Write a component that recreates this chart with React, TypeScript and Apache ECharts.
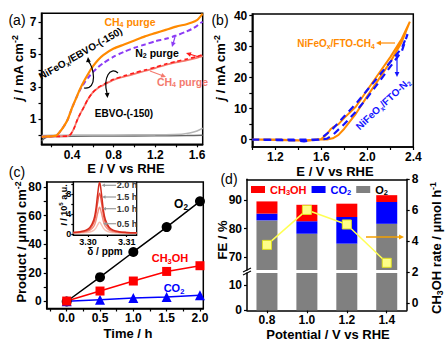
import React, { useEffect, useRef } from 'react';
import * as echarts from 'echarts';

const FONT = '"Liberation Sans", Arial, Helvetica, sans-serif';

// ---------- Panel (a): LSV curves ----------
const aE_NiFe = [0.11, 0.15, 0.2, 0.25, 0.28, 0.32, 0.36, 0.4, 0.44, 0.48, 0.52, 0.56, 0.6, 0.65, 0.7, 0.8, 0.9, 1.0, 1.1, 1.2, 1.3, 1.4, 1.5, 1.55, 1.6, 1.63, 1.655];
const aJ_NiFe_CH4 = [-0.08, -0.06, -0.05, 0.0, 0.2, 0.55, 1.0, 1.7, 2.3, 2.9, 3.4, 3.85, 4.25, 4.65, 4.95, 5.35, 5.6, 5.85, 6.1, 6.3, 6.5, 6.7, 6.85, 6.95, 7.1, 7.3, 7.5];
const aJ_NiFe_N2 = [-0.08, -0.06, -0.05, 0.0, 0.2, 0.55, 1.0, 1.7, 2.3, 2.85, 3.25, 3.6, 3.9, 4.2, 4.45, 4.85, 5.15, 5.4, 5.6, 5.8, 5.95, 6.15, 6.4, 6.55, 6.75, 6.9, 7.0];
const aE_EBVO = [0.11, 0.2, 0.3, 0.36, 0.39, 0.42, 0.45, 0.48, 0.51, 0.55, 0.6, 0.65, 0.7, 0.8, 0.9, 1.0, 1.1, 1.2, 1.3, 1.4, 1.5, 1.6, 1.655];
const aJ_EBVO_CH4 = [-0.08, -0.06, -0.05, -0.03, 0.1, 0.45, 0.95, 1.35, 1.7, 2.2, 2.65, 2.93, 3.1, 3.42, 3.62, 3.8, 3.97, 4.15, 4.35, 4.5, 4.63, 4.78, 4.88];
const aJ_EBVO_N2 = [-0.08, -0.06, -0.05, -0.03, 0.1, 0.45, 0.95, 1.35, 1.7, 2.2, 2.65, 2.95, 3.14, 3.46, 3.67, 3.86, 4.03, 4.2, 4.4, 4.56, 4.7, 4.86, 4.97];
const aE_dark = [0.11, 0.13, 0.16, 0.2, 0.4, 0.8, 1.2, 1.5, 1.655];
const aJ_dark = [-0.35, -0.2, -0.1, -0.06, -0.04, -0.03, -0.02, 0.0, 0.02];
const aE_light = [0.11, 0.3, 0.6, 1.0, 1.3, 1.45, 1.5, 1.55, 1.6, 1.655];
const aJ_light = [0.0, 0.02, 0.03, 0.04, 0.05, 0.08, 0.12, 0.18, 0.28, 0.45];
const aXLabels = [0.4, 0.8, 1.2, 1.6];
const aXTicks = [0.2, 0.4, 0.6, 0.8, 1.0, 1.2, 1.4, 1.6];
const aYLabels = [1, 3, 5, 7];
const aYTicks = [0, 1, 2, 3, 4, 5, 6, 7];

// ---------- Panel (b): CV loops ----------
const bE_CH4 = [1.0, 1.2, 1.4, 1.45, 1.5, 1.55, 1.6, 1.65, 1.68, 1.7, 1.75, 1.8, 1.9, 2.0, 2.1, 2.2, 2.3, 2.37, 2.3, 2.2, 2.1, 2.0, 1.9, 1.8, 1.75, 1.7, 1.65, 1.6, 1.4, 1.0];
const bJ_CH4 = [0, 0, -0.2, -0.5, -0.3, 0, 0.2, 1.8, 3.3, 3.9, 5.0, 7.0, 10.6, 16, 21.3, 26.6, 32.5, 38, 31.5, 25, 19.5, 14, 8.3, 3.5, 1.5, 0.4, 0, 0, -0.3, 0];
const bE_N2 = [1.0, 1.4, 1.45, 1.5, 1.58, 1.62, 1.7, 1.8, 1.9, 2.0, 2.1, 2.2, 2.3, 2.35, 2.3, 2.2, 2.1, 2.0, 1.9, 1.8, 1.7, 1.65, 1.6, 1.0];
const bJ_N2 = [0, -0.3, -0.6, -0.3, 0, 1.0, 3.5, 7.5, 11.5, 16, 20.5, 25, 29.5, 34, 28.5, 23.5, 18.5, 13.5, 9, 5, 1.5, 0.3, 0, 0];
const bXLabels = [1.2, 1.6, 2.0, 2.4];
const bXTicks = [1.0, 1.2, 1.4, 1.6, 1.8, 2.0, 2.2, 2.4];
const bYLabels = [0, 10, 20, 30, 40];
const bYTicks = [0, 5, 10, 15, 20, 25, 30, 35, 40];

// ---------- Panel (c): products vs time ----------
const cTime = [0, 0.5, 1.0, 1.5, 2.0];
const cO2 = [0, 17, 34.6, 52, 70];
const cCH3OH = [0.3, 7.3, 14.3, 21, 25];
const cCO2 = [0.2, 1.3, 2.4, 3.2, 4.4];
const cXLabels = [0, 0.5, 1.0, 1.5, 2.0];
const cXTicks = [-0.25, 0, 0.25, 0.5, 0.75, 1.0, 1.25, 1.5, 1.75, 2.0];
const cYLabels = [0, 20, 40, 60, 80];
const cYTicks = [0, 10, 20, 30, 40, 50, 60, 70, 80];

// inset NMR peaks
const insShift = [3.2962, 3.298, 3.2995, 3.3005, 3.3015, 3.302, 3.3025, 3.303, 3.3035, 3.304, 3.3045, 3.3055, 3.3065, 3.308, 3.3098, 3.3126];
const insP20 = [0.27, 0.42, 0.73, 1.27, 2.8, 4.67, 7.89, 10.3, 7.89, 4.67, 2.8, 1.27, 0.73, 0.42, 0.27, 0.19];
const insP15 = [0.24, 0.35, 0.6, 1.02, 2.22, 3.68, 6.21, 8.1, 6.21, 3.68, 2.22, 1.02, 0.6, 0.35, 0.24, 0.17];
const insP10 = [0.19, 0.26, 0.42, 0.7, 1.48, 2.43, 4.07, 5.3, 4.07, 2.43, 1.48, 0.7, 0.42, 0.26, 0.19, 0.15];
const insP05 = [0.14, 0.17, 0.24, 0.35, 0.68, 1.09, 1.78, 2.3, 1.78, 1.09, 0.68, 0.35, 0.24, 0.17, 0.14, 0.12];
const insXLabels = [3.30, 3.31];
const insXTicks = [3.30, 3.305, 3.31];
const insYLabels = [0, 4, 8];
const insYTicks = [0, 2, 4, 6, 8, 10];
const insTimes = ['2.0 h', '1.5 h', '1.0 h', '0.5 h'];

// ---------- Panel (d): Faradaic efficiency ----------
const dPot = ['0.8', '1.0', '1.2', '1.4'];
const dO2 = [82.9, 78.2, 74.7, 81.7];
const dCO2 = [2.4, 4.4, 9.4, 7.7];
const dCH3OH = [4.3, 5.8, 4.7, 2.4];
const dRate = [3.76, 6.02, 5.08, 2.6];
const dYUpLabels = [70, 80, 90];
const dYLowLabels = [0, 10];
const dRLabels = [0, 2, 4, 6, 8];

const ORANGE = '#ff8a00';
const PURPLE = '#8c3cf5';
const SALMON = '#f47a6e';
const RED = '#ff1a1a';
const BLUE = '#1414ff';

const zip = (xs: number[], ys: number[]) => xs.map((x, i) => [x, ys[i]]);
const f1 = (v: number) => v.toFixed(1);
const f2 = (v: number) => v.toFixed(2);

function vAxis(o: any) {
  return {
    type: 'value', gridIndex: o.g, min: o.min, max: o.max, position: o.pos,
    axisLine: { show: true, onZero: false, lineStyle: { color: '#000', width: o.lw ?? 1.5 } },
    axisTick: { show: !!o.ticks, length: o.tl ?? 3, inside: false, customValues: o.ticks, lineStyle: { color: '#000', width: 1.2 } },
    axisLabel: {
      show: !!o.labels, customValues: o.labels, formatter: o.fmt, color: '#000',
      fontSize: o.fs ?? 12, fontWeight: 'bold', fontFamily: FONT, margin: o.margin ?? 4,
      lineHeight: o.lh ?? (o.fs ?? 12) + 1,
    },
    splitLine: { show: false },
  };
}

function cAxis(o: any) {
  return {
    type: 'category', gridIndex: o.g, data: dPot, position: o.pos, show: o.show !== false,
    boundaryGap: true,
    axisLine: { show: true, onZero: false, lineStyle: { color: '#000', width: 1.5 } },
    axisTick: { show: !!o.labels, alignWithLabel: true, length: 3, lineStyle: { color: '#000', width: 1.2 } },
    axisLabel: { show: !!o.labels, color: '#000', fontSize: 12, fontWeight: 'bold', fontFamily: FONT, margin: 3, lineHeight: 13 },
    splitLine: { show: false },
  };
}

function T(x: number, y: number, text: string, o: any = {}) {
  const size = o.size ?? 12;
  const color = o.color ?? '#000';
  const weight = o.weight ?? 'bold';
  const small = Math.round(size * 0.68 * 10) / 10;
  const tok = (extra: any) => ({ fontSize: small, fontWeight: weight, fontFamily: FONT, fill: color, ...extra });
  return {
    type: 'text', x, y, rotation: o.rot ?? 0, z: 100, silent: true,
    style: {
      text, fill: color, fontSize: size, fontWeight: weight, fontFamily: FONT,
      align: 'center', verticalAlign: 'middle', textAlign: 'center', textVerticalAlign: 'middle',
      lineHeight: size + 3,
      rich: {
        sub: tok({ verticalAlign: 'bottom' }),
        sup: tok({ verticalAlign: 'top' }),
        it: { fontSize: size, fontWeight: weight, fontStyle: 'italic', fontFamily: FONT, fill: color, lineHeight: size + 3 },
      },
    },
  };
}

function head(x: number, y: number, ang: number, color: string, hl = 5, hw = 2.4) {
  const c = Math.cos(ang), s = Math.sin(ang);
  return {
    type: 'polygon', z: 100, silent: true,
    shape: { points: [[x, y], [x - hl * c + hw * s, y - hl * s - hw * c], [x - hl * c - hw * s, y - hl * s + hw * c]] },
    style: { fill: color },
  };
}
function arrow(x1: number, y1: number, x2: number, y2: number, color: string, w = 1.2, hl = 5, hw = 2.4) {
  const ang = Math.atan2(y2 - y1, x2 - x1);
  return [
    { type: 'line', z: 100, silent: true, shape: { x1, y1, x2: x2 - hl * 0.7 * Math.cos(ang), y2: y2 - hl * 0.7 * Math.sin(ang) }, style: { stroke: color, lineWidth: w } },
    head(x2, y2, ang, color, hl, hw),
  ];
}
function curve(x1: number, y1: number, cx1: number, cy1: number, cx2: number, cy2: number, x2: number, y2: number, color: string, w = 1.2) {
  return { type: 'bezierCurve', z: 100, silent: true, shape: { x1, y1, cpx1: cx1, cpy1: cy1, cpx2: cx2, cpy2: cy2, x2, y2 }, style: { stroke: color, lineWidth: w, fill: 'none' } };
}

function line(name: string, data: any[], xi: number, color: string, width: number, extra: any = {}) {
  return {
    type: 'line', name, data, xAxisIndex: xi, yAxisIndex: xi, showSymbol: false, symbol: 'none',
    lineStyle: { color, width, type: extra.dash ?? 'solid' }, itemStyle: { color },
    smooth: extra.smooth ?? 0.25, clip: true, silent: true, z: extra.z ?? 2,
  };
}

function buildOption() {
  const grid = (left: number, top: number, width: number, height: number, border = true, extra: any = {}) => ({
    left, top, width, height, show: border, borderColor: '#000', borderWidth: 1.5,
    backgroundColor: 'transparent', containLabel: false, outerBoundsMode: 'none', ...extra,
  });
  const grids = [
    grid(41.5, 13.3, 161.2, 131),
    grid(252.3, 14, 161, 133),
    grid(46.7, 182, 156.6, 126.5),
    grid(73.3, 182, 63.4, 53, true, { backgroundColor: '#fff', borderWidth: 1.2 }),
    grid(247, 179.3, 159.7, 90.7, false),
    grid(247, 273, 159.7, 37.3, false),
    grid(247, 179.3, 159.7, 131, false),
  ];

  const xAxis = [
    vAxis({ g: 0, min: 0.107, max: 1.655, labels: aXLabels, ticks: aXTicks, pos: 'bottom', fmt: f1, margin: 4 }),
    vAxis({ g: 1, min: 1.0, max: 2.4, labels: bXLabels, ticks: bXTicks, pos: 'bottom', fmt: f1, margin: 3 }),
    vAxis({ g: 2, min: -0.3, max: 2.05, labels: cXLabels, ticks: cXTicks, pos: 'bottom', fmt: f1, margin: 3 }),
    vAxis({ g: 3, min: 3.2962, max: 3.3126, labels: insXLabels, ticks: insXTicks, pos: 'bottom', fmt: f2, fs: 9, margin: 2, tl: 2, lw: 1.2 }),
    cAxis({ g: 4, pos: 'top' }),
    cAxis({ g: 5, pos: 'bottom', labels: true }),
    { type: 'category', gridIndex: 6, data: dPot, show: false, boundaryGap: true },
  ];
  const yAxis = [
    vAxis({ g: 0, min: -0.54, max: 7.52, labels: aYLabels, ticks: aYTicks, pos: 'left', margin: 5 }),
    vAxis({ g: 1, min: -2.4, max: 40.5, labels: bYLabels, ticks: bYTicks, pos: 'left', margin: 5 }),
    vAxis({ g: 2, min: -4.9, max: 83.5, labels: cYLabels, ticks: cYTicks, pos: 'left', margin: 5 }),
    vAxis({ g: 3, min: -0.25, max: 10.35, labels: insYLabels, ticks: insYTicks, pos: 'left', fs: 9, margin: 2, tl: 2, lw: 1.2 }),
    vAxis({ g: 4, min: 65.4, max: 97.4, labels: dYUpLabels, ticks: dYUpLabels, pos: 'left', margin: 5 }),
    vAxis({ g: 5, min: 0, max: 14.9, labels: dYLowLabels, ticks: dYLowLabels, pos: 'left', margin: 5 }),
    vAxis({ g: 6, min: -0.47, max: 8, labels: dRLabels, ticks: dRLabels, pos: 'right', margin: 5 }),
  ];

  const series: any[] = [
    // (a)
    line('bareDark', zip(aE_dark, aJ_dark), 0, '#666', 1.5),
    line('bareLight', zip(aE_light, aJ_light), 0, '#b5b5b5', 1.5),
    line('EBVO CH4', zip(aE_EBVO, aJ_EBVO_CH4), 0, SALMON, 1.8),
    line('EBVO N2', zip(aE_EBVO, aJ_EBVO_N2), 0, RED, 1.6, { dash: [4, 3] }),
    line('NiFe N2', zip(aE_NiFe, aJ_NiFe_N2), 0, PURPLE, 2, { dash: [5, 3] }),
    line('NiFe CH4', zip(aE_NiFe, aJ_NiFe_CH4), 0, ORANGE, 2.2),
    // (b)
    line('FTO CH4', zip(bE_CH4, bJ_CH4), 1, ORANGE, 2, { smooth: false }),
    line('FTO N2', zip(bE_N2, bJ_N2), 1, BLUE, 2.2, { smooth: false, dash: [7, 5], z: 3 }),
    // inset
    line('0.5 h', zip(insShift, insP05), 3, '#f8c0b4', 1.4, { smooth: 0.4 }),
    line('1.0 h', zip(insShift, insP10), 3, '#f29080', 1.4, { smooth: 0.4 }),
    line('1.5 h', zip(insShift, insP15), 3, '#e8594a', 1.4, { smooth: 0.4 }),
    line('2.0 h', zip(insShift, insP20), 3, '#d62b1c', 1.5, { smooth: 0.4 }),
  ];
  // (c)
  const cSer = (name: string, ys: number[], color: string, symbol: string, size: number) => ({
    type: 'line', name, data: zip(cTime, ys), xAxisIndex: 2, yAxisIndex: 2, symbol, symbolSize: size,
    showSymbol: true, lineStyle: { color, width: 1.5 }, itemStyle: { color }, silent: true, clip: false,
  });
  series.push(cSer('O2 (c)', cO2, '#000', 'circle', 10));
  series.push(cSer('CO2 (c)', cCO2, '#0000ff', 'triangle', 10));
  series.push(cSer('CH3OH (c)', cCH3OH, '#ff0000', 'rect', 9));
  // (d) bars
  const bar = (name: string, ys: number[], gi: number, color: string, stack: string) => ({
    type: 'bar', name, data: ys, xAxisIndex: gi, yAxisIndex: gi, stack, barWidth: 21,
    itemStyle: { color }, silent: true, clip: true,
  });
  series.push(bar('O2', dO2, 4, '#808080', 'up'));
  series.push(bar('CO2', dCO2, 4, '#0000ff', 'up'));
  series.push(bar('CH3OH', dCH3OH, 4, '#ff0000', 'up'));
  series.push(bar('O2', dO2, 5, '#808080', 'low'));
  series.push({
    type: 'line', name: 'rate', data: dRate, xAxisIndex: 6, yAxisIndex: 6, symbol: 'rect', symbolSize: 9,
    showSymbol: true, z: 10, silent: true,
    lineStyle: { color: '#ffff55', width: 1.5 },
    itemStyle: { color: '#ffff88', borderColor: '#e0e020', borderWidth: 1 },
  });

  const PI2 = Math.PI / 2;
  const graphic: any[] = [
    // panel tags
    T(17, 20, '(a)', { size: 14, weight: 'normal' }),
    T(220, 20, '(b)', { size: 14, weight: 'normal' }),
    T(17, 172, '(c)', { size: 14, weight: 'normal' }),
    T(229, 179, '(d)', { size: 14, weight: 'normal' }),
    // axis titles
    T(18, 68, '{it|j} / mA cm{sup|-2}', { size: 13, rot: PI2 }),
    T(126, 168, 'E / V vs RHE', { size: 13 }),
    T(220, 68, '{it|j} / mA cm{sup|-2}', { size: 13, rot: PI2 }),
    T(335, 171, 'E / V vs RHE', { size: 13 }),
    T(21, 242, 'Product / μmol cm{sup|-2}', { size: 13, rot: PI2 }),
    T(128, 333, 'Time / h', { size: 13 }),
    T(222, 240, 'FE / %', { size: 13, rot: PI2 }),
    T(436, 248, 'CH{sub|3}OH rate / μmol h{sup|-1}', { size: 13, rot: PI2 }),
    T(328, 334, 'Potential / V vs RHE', { size: 13 }),
    // (a) annotations
    T(130, 22, 'CH{sub|4} purge', { size: 10.5, color: ORANGE }),
    T(80.5, 53.5, 'NiFeO{sub|x}/EBVO-(-150)', { size: 10, rot: 0.52 }),
    T(157, 53, 'N{sub|2} purge', { size: 10.5 }),
    T(182.5, 82, 'CH{sub|4} purge', { size: 10.5, color: SALMON }),
    T(124, 113, 'EBVO-(-150)', { size: 10 }),
    curve(84, 88, 98, 90, 94, 66, 88, 61, '#000'),
    head(88, 57, -1.65, '#000', 5, 2.4),
    curve(118, 73, 110, 66, 103, 78, 107, 93, '#000'),
    head(107.5, 98, 1.5, '#000', 5, 2.4),
    ...arrow(175, 37, 172, 47, PURPLE),
    ...arrow(199, 57, 186, 53, RED),
    ...arrow(150, 71, 166, 77, SALMON),
    // (b) annotations
    T(336, 43, 'NiFeO{sub|x}/FTO-CH{sub|4}', { size: 10, color: ORANGE }),
    ...arrow(395, 43, 376, 43, ORANGE),
    T(383, 104, 'NiFeO{sub|x}/FTO-N{sub|2}', { size: 10, color: BLUE, rot: 0.75 }),
    ...arrow(397, 56, 397, 77, BLUE),
    // (c) annotations
    T(181, 204, 'O{sub|2}', { size: 12 }),
    T(170, 258, 'CH{sub|3}OH', { size: 11, color: '#ff0000' }),
    T(174, 288, 'CO{sub|2}', { size: 11, color: '#0000ff' }),
    T(63.5, 205, '{it|I} / 10{sup|5} a.u.', { size: 9, rot: PI2 }),
    T(105, 251, 'δ / ppm', { size: 10 }),
    // (d) annotations
    ...arrow(366, 237, 404, 237, '#f5a000', 1.5),
    { type: 'line', z: 100, silent: true, shape: { x1: 243, y1: 272, x2: 251, y2: 268 }, style: { stroke: '#000', lineWidth: 1.2 } },
    { type: 'line', z: 100, silent: true, shape: { x1: 243, y1: 275, x2: 251, y2: 271 }, style: { stroke: '#000', lineWidth: 1.2 } },
  ];
  const insY = [185.3, 197, 208.7, 223.7];
  const insTip = [101.5, 102, 102.5, 103];
  insTimes.forEach((t, i) => {
    graphic.push(T(127, insY[i], t, { size: 9, color: '#333' }));
    graphic.push(...arrow(116, insY[i], insTip[i], insY[i], '#9a9a9a', 1.2, 3.5, 1.8));
  });

  return {
    animation: false,
    backgroundColor: '#fff',
    textStyle: { fontFamily: FONT },
    grid: grids,
    xAxis,
    yAxis,
    series,
    legend: {
      left: 251, top: 184, orient: 'horizontal', itemWidth: 14, itemHeight: 7, itemGap: 5, padding: 0,
      icon: 'rect', selectedMode: false, data: ['CH3OH', 'CO2', 'O2'],
      formatter: (n: string) => (n === 'CH3OH' ? '{r|CH}{rs|3}{r|OH}' : n === 'CO2' ? '{b|CO}{bs|2}' : '{k|O}{ks|2}'),
      textStyle: {
        fontFamily: FONT, fontWeight: 'bold', fontSize: 11,
        rich: {
          r: { color: '#ff0000', fontSize: 11, fontWeight: 'bold', fontFamily: FONT, lineHeight: 14 },
          rs: { color: '#ff0000', fontSize: 7.5, fontWeight: 'bold', fontFamily: FONT, verticalAlign: 'bottom' },
          b: { color: '#0000ff', fontSize: 11, fontWeight: 'bold', fontFamily: FONT, lineHeight: 14 },
          bs: { color: '#0000ff', fontSize: 7.5, fontWeight: 'bold', fontFamily: FONT, verticalAlign: 'bottom' },
          k: { color: '#000', fontSize: 11, fontWeight: 'bold', fontFamily: FONT, lineHeight: 14 },
          ks: { color: '#000', fontSize: 7.5, fontWeight: 'bold', fontFamily: FONT, verticalAlign: 'bottom' },
        },
      },
    },
    graphic,
  };
}

export default function App() {
  const ref = useRef<HTMLDivElement>(null);
  useEffect(() => {
    if (!ref.current) return;
    const chart = echarts.init(ref.current, null, { renderer: 'svg' });
    chart.setOption(buildOption() as any);
    return () => chart.dispose();
  }, []);
  return (
    <div
      ref={ref}
      style={{ position: 'fixed', left: 0, top: 0, width: 448, height: 344, background: '#fff' }}
    />
  );
}
